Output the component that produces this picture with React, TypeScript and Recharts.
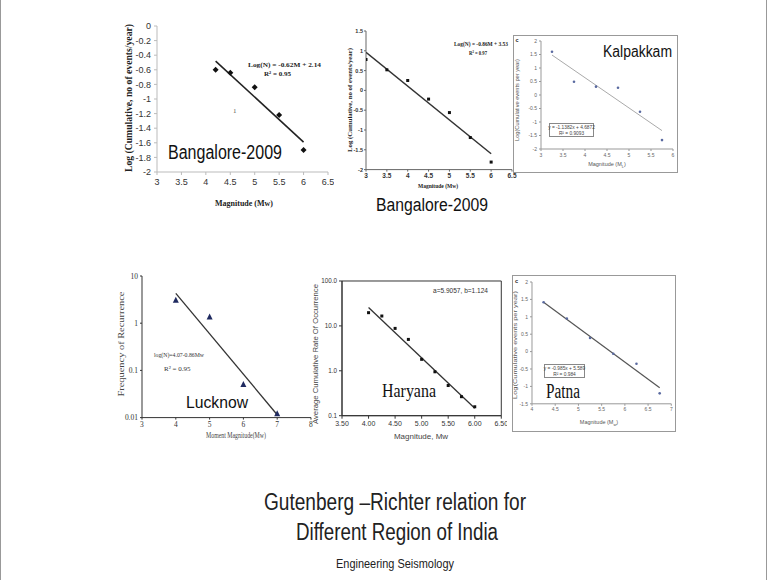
import React from 'react'
import { ScatterChart, Scatter, XAxis, YAxis, ReferenceArea } from 'recharts'

// Bangalore-2009 (left panel)
const b1Mag = [4.2, 4.5, 5, 5.5, 6]
const b1Log = [-0.6, -0.64, -0.84, -1.22, -1.7]
const b1FitMag = [4.2, 6]
const b1FitLog = [-0.48, -1.59]
const b1XTicks = [3, 3.5, 4, 4.5, 5, 5.5, 6, 6.5]
const b1YTicks = [0, -0.2, -0.4, -0.6, -0.8, -1, -1.2, -1.4, -1.6, -1.8, -2]

// Bangalore-2009 (middle panel)
const b2Mag = [3, 3.5, 4, 4.5, 5, 5.5, 6]
const b2Log = [0.78, 0.52, 0.25, -0.22, -0.56, -1.19, -1.81]
const b2FitMag = [3, 6]
const b2FitLog = [0.96, -1.6]
const b2XTicks = [3, 3.5, 4, 4.5, 5, 5.5, 6, 6.5]
const b2YTicks = [1.5, 1, 0.5, 0, -0.5, -1, -1.5, -2]

// Kalpakkam
const kaMag = [3.25, 3.75, 4.25, 4.75, 5.25, 5.75]
const kaLog = [1.6, 0.49, 0.31, 0.27, -0.62, -1.67]
const kaFitMag = [3.25, 5.75]
const kaFitLog = [1.48, -1.32]
const kaXTicks = [3, 3.5, 4, 4.5, 5, 5.5, 6]
const kaYTicks = [2, 1.5, 1, 0.5, 0, -0.5, -1, -1.5, -2]

// Lucknow
const luMag = [4, 5, 6, 7]
const luFreq = [3.05, 1.36, 0.05, 0.012]
const luFitMag = [4, 7]
const luFitFreq = [4.3, 0.0115]
const luXTicks = [3, 4, 5, 6, 7, 8]
const luYTicks = [0.01, 0.1, 1, 10]

// Haryana
const haMag = [4, 4.25, 4.5, 4.75, 5, 5.25, 5.5, 5.75, 6]
const haRate = [19.7, 16.6, 8.8, 5.0, 1.8, 0.95, 0.47, 0.265, 0.158]
const haFitMag = [4, 6]
const haFitRate = [25.8, 0.146]
const haXTicks = [3.5, 4, 4.5, 5, 5.5, 6, 6.5]
const haYTicks = [0.1, 1, 10, 100]

// Patna
const paMag = [4.25, 4.75, 5.25, 5.75, 6.25, 6.75]
const paLog = [1.42, 0.95, 0.39, -0.06, -0.35, -1.2]
const paFitMag = [4.25, 6.75]
const paFitLog = [1.42, -1.04]
const paXTicks = [4, 4.5, 5, 5.5, 6, 6.5, 7]
const paYTicks = [2, 1.5, 1, 0.5, 0, -0.5, -1, -1.5]

const SANS = "'Liberation Sans', Arial, sans-serif"
const NARROW = "'Liberation Sans Narrow', 'Liberation Sans', Arial, sans-serif"
const SERIF = "'Liberation Serif', 'Times New Roman', serif"

const MT = 4
const MR = 6
const MB = 2

const diamond = (c: string) => (p: any) => (
  <polygon points={`${p.cx},${p.cy - 3} ${p.cx + 3},${p.cy} ${p.cx},${p.cy + 3} ${p.cx - 3},${p.cy}`} fill={c} />
)
const square = (c: string, s: number) => (p: any) => (
  <rect x={p.cx - s / 2} y={p.cy - s / 2} width={s} height={s} fill={c} />
)
const triangle = (c: string) => (p: any) => (
  <polygon points={`${p.cx},${p.cy - 3.5} ${p.cx + 3},${p.cy + 2.5} ${p.cx - 3},${p.cy + 2.5}`} fill={c} />
)
const dot = (c: string, r: number) => (p: any) => <circle cx={p.cx} cy={p.cy} r={r} fill={c} />
const noMark = () => <g />

function Panel(p: any) {
  const [x0, y0, x1, y1] = p.plot
  const w = x1 - x0
  const h = y1 - y0
  const pts = p.xs.map((x: number, i: number) => ({ x, y: p.ys[i] }))
  const fit = p.fx.map((x: number, i: number) => ({ x, y: p.fy[i] }))
  const ts = p.tickSize ?? 3
  return (
    <div style={{ position: 'absolute', left: x0 - p.yw, top: y0 - MT }}>
      <ScatterChart
        width={w + p.yw + MR}
        height={h + MT + p.xh + MB}
        margin={{ top: MT, right: MR, bottom: MB, left: 0 }}
      >
        <XAxis
          type="number"
          dataKey="x"
          domain={p.xDomain}
          ticks={p.xTicks}
          interval={0}
          allowDataOverflow
          height={p.xh}
          stroke={p.axis}
          tickSize={ts}
          tickMargin={p.xMargin ?? 2}
          tick={p.tick}
          tickFormatter={p.xFmt}
        />
        <YAxis
          type="number"
          dataKey="y"
          domain={p.yDomain}
          ticks={p.yTicks}
          interval={0}
          allowDataOverflow
          scale={p.logY ? 'log' : 'linear'}
          width={p.yw}
          stroke={p.axis}
          tickSize={ts}
          tickMargin={p.yMargin ?? 2}
          tick={p.yTick ?? p.tick}
          tickFormatter={p.yFmt}
        />
        {p.boxed && (
          <ReferenceArea
            x1={p.xDomain[0]}
            x2={p.xDomain[1]}
            y1={p.yDomain[0]}
            y2={p.yDomain[1]}
            fill="none"
            stroke={p.axis}
            strokeWidth={1}
          />
        )}
        <Scatter
          data={fit}
          line={{ stroke: p.fitColor, strokeWidth: p.fitWidth }}
          shape={noMark}
          isAnimationActive={false}
        />
        <Scatter data={pts} shape={p.shape} isAnimationActive={false} />
      </ScatterChart>
    </div>
  )
}

export default function App() {
  return (
    <div
      style={{
        position: 'absolute',
        left: 0,
        top: 0,
        width: 767,
        height: 580,
        background: '#fff',
        boxSizing: 'border-box',
        borderLeft: '1px solid #999',
        borderRight: '1px solid #999',
        overflow: 'hidden'
      }}
    >
      {/* framed panels */}
      <div style={{ position: 'absolute', left: 512, top: 35, width: 165, height: 138, border: '1px solid #999', boxSizing: 'border-box' }} />
      <div style={{ position: 'absolute', left: 511, top: 275, width: 164, height: 157, border: '1px solid #999', boxSizing: 'border-box' }} />
      <div style={{ position: 'absolute', left: 548, top: 123, width: 45, height: 14, border: '1px solid #888', boxSizing: 'border-box', background: '#fff' }} />
      <div style={{ position: 'absolute', left: 543, top: 364, width: 41, height: 14, border: '1px solid #888', boxSizing: 'border-box', background: '#fff' }} />

      <Panel
        plot={[156, 25.7, 327, 171.7]} yw={40} xh={22}
        xs={b1Mag} ys={b1Log} fx={b1FitMag} fy={b1FitLog}
        xDomain={[3, 6.5]} yDomain={[-2, 0]} xTicks={b1XTicks} yTicks={b1YTicks}
        axis="#bbb" xMargin={4} yMargin={3}
        tick={{ fontSize: 9, fill: '#333', fontFamily: NARROW }}
        shape={diamond('#111')} fitColor="#222" fitWidth={1.6}
      />
      <Panel
        plot={[365, 30.7, 511, 169.3]} yw={30} xh={16}
        xs={b2Mag} ys={b2Log} fx={b2FitMag} fy={b2FitLog}
        xDomain={[3, 6.5]} yDomain={[-2, 1.5]} xTicks={b2XTicks} yTicks={b2YTicks}
        axis="#666" tickSize={2} yMargin={1}
        tick={{ fontSize: 6.5, fill: '#333', fontFamily: SANS, fontWeight: 'bold' }}
        yTick={{ fontSize: 5.5, fill: '#333', fontFamily: SANS, fontWeight: 'bold' }}
        shape={square('#111', 3)} fitColor="#333" fitWidth={1.5}
      />
      <Panel
        plot={[540, 41, 672, 149]} yw={20} xh={10}
        xs={kaMag} ys={kaLog} fx={kaFitMag} fy={kaFitLog}
        xDomain={[3, 6]} yDomain={[-2, 2]} xTicks={kaXTicks} yTicks={kaYTicks}
        axis="#999" tickSize={2}
        tick={{ fontSize: 5, fill: '#666', fontFamily: SANS }}
        shape={dot('#5a6aa0', 1.3)} fitColor="#aaa" fitWidth={1}
      />
      <Panel
        plot={[140.7, 275.7, 309.7, 417.3]} yw={30} xh={14}
        xs={luMag} ys={luFreq} fx={luFitMag} fy={luFitFreq}
        xDomain={[3, 8]} yDomain={[0.01, 10]} xTicks={luXTicks} yTicks={luYTicks} logY
        axis="#333" tickSize={2}
        tick={{ fontSize: 7.5, fill: '#333', fontFamily: SERIF }}
        shape={triangle('#1f2a60')} fitColor="#333" fitWidth={1.3}
      />
      <Panel
        plot={[340.7, 281, 500, 415.7]} yw={28} xh={16}
        xs={haMag} ys={haRate} fx={haFitMag} fy={haFitRate}
        xDomain={[3.5, 6.5]} yDomain={[0.1, 100]} xTicks={haXTicks} yTicks={haYTicks} logY boxed
        axis="#333" tickSize={3}
        xFmt={(v: number) => v.toFixed(2)} yFmt={(v: number) => v.toFixed(1)}
        tick={{ fontSize: 7, fill: '#333', fontFamily: NARROW }}
        yTick={{ fontSize: 6.3, fill: '#333', fontFamily: NARROW }}
        shape={square('#111', 3)} fitColor="#333" fitWidth={1.3}
      />
      <Panel
        plot={[530.7, 281.7, 670, 403.5]} yw={18} xh={10}
        xs={paMag} ys={paLog} fx={paFitMag} fy={paFitLog}
        xDomain={[4, 7]} yDomain={[-1.5, 2]} xTicks={paXTicks} yTicks={paYTicks}
        axis="#999" tickSize={2}
        tick={{ fontSize: 5, fill: '#666', fontFamily: SANS }}
        shape={dot('#5a6aa0', 1.3)} fitColor="#555" fitWidth={1.2}
      />

      <svg width={767} height={580} style={{ position: 'absolute', left: 0, top: 0, pointerEvents: 'none' }}>
        {/* Bangalore left */}
        <text transform="translate(131,98) rotate(-90)" textAnchor="middle" fontFamily={SERIF} fontWeight="bold" fontSize={9.5} textLength={148} lengthAdjust="spacingAndGlyphs" fill="#222">Log (Cumulative, no of events/year)</text>
        <text x={243} y={206} textAnchor="middle" fontFamily={SERIF} fontWeight="bold" fontSize={9} textLength={58} lengthAdjust="spacingAndGlyphs" fill="#222">Magnitude (Mw)</text>
        <text x={247} y={67} fontFamily={SERIF} fontWeight="bold" fontSize={7} textLength={73} lengthAdjust="spacingAndGlyphs" fill="#222">Log(N) = -0.62M + 2.14</text>
        <text x={263} y={75.5} fontFamily={SERIF} fontWeight="bold" fontSize={7} textLength={27} lengthAdjust="spacingAndGlyphs" fill="#222">R² = 0.95</text>
        <text x={232} y={113} fontFamily={SERIF} fontSize={7} fill="#555">1</text>
        <text x={167} y={159} fontFamily={SANS} fontSize={20} textLength={114} lengthAdjust="spacingAndGlyphs" fill="#111">Bangalore-2009</text>

        {/* Bangalore middle */}
        <text transform="translate(351,100) rotate(-90)" textAnchor="middle" fontFamily={SERIF} fontWeight="bold" fontSize={6.5} textLength={104} lengthAdjust="spacingAndGlyphs" fill="#222">Log (Cumulative, no of events/year)</text>
        <text x={437} y={188} textAnchor="middle" fontFamily={SERIF} fontWeight="bold" fontSize={7} textLength={40} lengthAdjust="spacingAndGlyphs" fill="#222">Magnitude (Mw)</text>
        <text x={453} y={46} fontFamily={SERIF} fontWeight="bold" fontSize={6.5} textLength={54} lengthAdjust="spacingAndGlyphs" fill="#222">Log(N) = -0.86M + 3.53</text>
        <text x={468} y={55} fontFamily={SERIF} fontWeight="bold" fontSize={6.5} textLength={18} lengthAdjust="spacingAndGlyphs" fill="#222">R² = 0.97</text>
        <text x={375} y={211} fontFamily={SANS} fontSize={18} textLength={112} lengthAdjust="spacingAndGlyphs" fill="#111">Bangalore-2009</text>

        {/* Kalpakkam */}
        <text x={514.5} y={42} fontFamily={SANS} fontWeight="bold" fontSize={5.5} fill="#222">c</text>
        <text transform="translate(518,100) rotate(-90)" textAnchor="middle" fontFamily={SANS} fontSize={5.5} textLength={82} lengthAdjust="spacingAndGlyphs" fill="#555">Log(Cumulative events per year)</text>
        <text x={606} y={166} textAnchor="middle" fontFamily={SANS} fontSize={5.5} fill="#555">Magnitude (M<tspan fontSize={4} dy={1.5}>L</tspan><tspan dy={-1.5}>)</tspan></text>
        <text x={570.5} y={129} textAnchor="middle" fontFamily={SANS} fontSize={4.8} fill="#444">y = -1.1382x + 4.6872</text>
        <text x={570.5} y={135} textAnchor="middle" fontFamily={SANS} fontSize={4.8} fill="#444">R² = 0.9093</text>
        <text x={602} y={57} fontFamily={SANS} fontSize={16} textLength={69} lengthAdjust="spacingAndGlyphs" fill="#111">Kalpakkam</text>

        {/* Lucknow */}
        <text transform="translate(123,344) rotate(-90)" textAnchor="middle" fontFamily={SERIF} fontSize={8} textLength={105} lengthAdjust="spacingAndGlyphs" fill="#444">Frequency of Recurrence</text>
        <text x={235} y={438} textAnchor="middle" fontFamily={SERIF} fontSize={7.5} textLength={60} lengthAdjust="spacingAndGlyphs" fill="#444">Moment Magnitude(Mw)</text>
        <text x={153} y={357} fontFamily={SERIF} fontSize={7} textLength={50} lengthAdjust="spacingAndGlyphs" fill="#333">log(N)=4.07-0.86Mw</text>
        <text x={163} y={371} fontFamily={SERIF} fontSize={7} fill="#333">R² = 0.95</text>
        <text x={185} y={407.5} fontFamily={SANS} fontSize={17} textLength={62} lengthAdjust="spacingAndGlyphs" fill="#111">Lucknow</text>

        {/* Haryana */}
        <text transform="translate(317,354) rotate(-90)" textAnchor="middle" fontFamily={NARROW} fontSize={7.5} textLength={140} lengthAdjust="spacingAndGlyphs" fill="#444">Average Cumulative Rate Of Occurrence</text>
        <text x={420} y={439} textAnchor="middle" fontFamily={NARROW} fontSize={8} fill="#444">Magnitude, Mw</text>
        <text x={432} y={293} fontFamily={NARROW} fontSize={7.5} textLength={55} lengthAdjust="spacingAndGlyphs" fill="#333">a=5.9057, b=1.124</text>
        <text x={381} y={397} fontFamily={SERIF} fontSize={18} textLength={54} lengthAdjust="spacingAndGlyphs" fill="#111">Haryana</text>

        {/* Patna */}
        <text x={514} y={283} fontFamily={SANS} fontWeight="bold" fontSize={5.5} fill="#222">c</text>
        <text transform="translate(516,345) rotate(-90)" textAnchor="middle" fontFamily={SANS} fontSize={5.5} textLength={108} lengthAdjust="spacingAndGlyphs" fill="#555">Log(Cumulative events per year)</text>
        <text x={598} y={424} textAnchor="middle" fontFamily={SANS} fontSize={5.5} fill="#555">Magnitude (M<tspan fontSize={4} dy={1.5}>w</tspan><tspan dy={-1.5}>)</tspan></text>
        <text x={563.5} y={370} textAnchor="middle" fontFamily={SANS} fontSize={4.8} fill="#444">y = -0.985x + 5.589</text>
        <text x={563.5} y={376} textAnchor="middle" fontFamily={SANS} fontSize={4.8} fill="#444">R² = 0.984</text>
        <text x={545} y={397.5} fontFamily={SERIF} fontSize={20} textLength={34} lengthAdjust="spacingAndGlyphs" fill="#111">Patna</text>

        {/* slide title */}
        <text x={394} y={510} textAnchor="middle" fontFamily={SANS} fontSize={23} textLength={262} lengthAdjust="spacingAndGlyphs" fill="#222">Gutenberg –Richter relation for</text>
        <text x={396} y={540} textAnchor="middle" fontFamily={SANS} fontSize={23} textLength={202} lengthAdjust="spacingAndGlyphs" fill="#222">Different Region of India</text>
        <text x={394} y={568} textAnchor="middle" fontFamily={SANS} fontSize={12.5} textLength={118} lengthAdjust="spacingAndGlyphs" fill="#222">Engineering Seismology</text>
      </svg>
    </div>
  )
}
